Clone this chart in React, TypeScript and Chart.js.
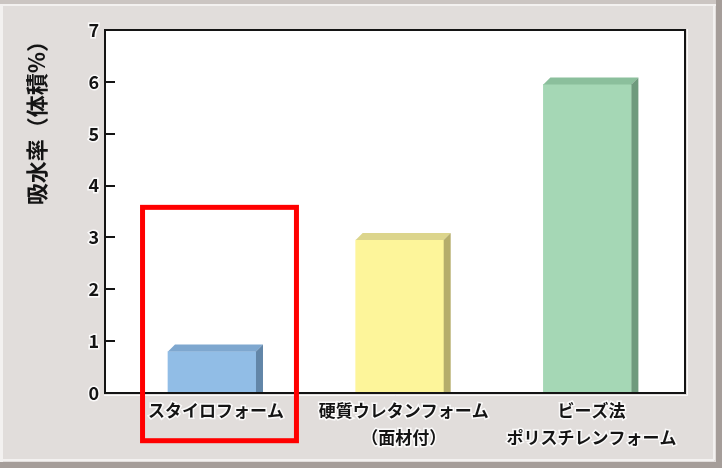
import React, { useEffect, useRef } from 'react';
import { Chart, registerables } from 'chart.js';

Chart.register(...registerables);

// chart data
const CATEGORIES: string[][] = [
  ['スタイロフォーム'],
  ['硬質ウレタンフォーム', '（面材付）'],
  ['ビーズ法', 'ポリスチレンフォーム'],
];
const WATER_ABSORPTION = [0.8, 2.95, 5.95];
const Y_TICKS = [0, 1, 2, 3, 4, 5, 6, 7];
const Y_TITLE = '吸水率（体積%）';

// red highlight box around the first category (axis units)
const HIGHLIGHT_X = [-0.37, 0.45];
const HIGHLIGHT_Y = [-0.92, 3.58];

// bar face colours
const FRONT = ['#91bde6', '#fdf59a', '#a5d7b5'];
const TOP = ['#7ea7cf', '#dcd58c', '#8bbf9c'];
const SIDE = ['#6286a8', '#b5ad6b', '#6f9a7d'];

const DEPTH = 7;
const INK = '#141414';

const framePlugin = {
  id: 'frame',
  beforeDraw(chart: any) {
    const { ctx, width, height, chartArea: a } = chart;
    ctx.save();
    ctx.fillStyle = '#e1dddb';
    ctx.fillRect(0, 0, width, height);
    ctx.fillStyle = '#cbc5c2';
    ctx.fillRect(0, 0, width, 4);
    ctx.fillStyle = '#f3f1f0';
    ctx.fillRect(0, 4, width - 6, 2);
    ctx.fillRect(0, 4, 3, height - 6);
    ctx.fillStyle = '#a59d99';
    ctx.fillRect(width - 6, 0, 6, height);
    ctx.fillRect(0, height - 6, width, 6);
    ctx.fillStyle = '#f3f1f0';
    ctx.fillRect(width - 9, 6, 2, height - 14);
    ctx.fillRect(3, height - 9, width - 11, 2);
    ctx.fillStyle = '#ffffff';
    ctx.fillRect(a.left, a.top, a.right - a.left, a.bottom - a.top);
    ctx.restore();
  },
};

const bars3dPlugin = {
  id: 'bars3d',
  afterDatasetsDraw(chart: any) {
    const { ctx } = chart;
    const meta = chart.getDatasetMeta(0);
    ctx.save();
    meta.data.forEach((el: any, i: number) => {
      const { x, y, base, width } = el.getProps(['x', 'y', 'base', 'width'], true);
      const l = x - width / 2;
      const r = x + width / 2;
      ctx.fillStyle = TOP[i];
      ctx.beginPath();
      ctx.moveTo(l, y);
      ctx.lineTo(l + DEPTH, y - DEPTH);
      ctx.lineTo(r + DEPTH, y - DEPTH);
      ctx.lineTo(r, y);
      ctx.closePath();
      ctx.fill();
      ctx.fillStyle = SIDE[i];
      ctx.beginPath();
      ctx.moveTo(r, y);
      ctx.lineTo(r + DEPTH, y - DEPTH);
      ctx.lineTo(r + DEPTH, base);
      ctx.lineTo(r, base);
      ctx.closePath();
      ctx.fill();
    });
    ctx.restore();
  },
};

const overlayPlugin = {
  id: 'overlay',
  afterDraw(chart: any) {
    const { ctx, chartArea: a, scales } = chart;
    const yScale = scales.y;
    const xScale = scales.x;
    ctx.save();
    // light emboss outside the plot frame
    ctx.strokeStyle = '#fbfafa';
    ctx.lineWidth = 1;
    ctx.beginPath();
    ctx.moveTo(a.right + 2.5, a.top - 1);
    ctx.lineTo(a.right + 2.5, a.bottom + 2.5);
    ctx.lineTo(a.left - 1, a.bottom + 2.5);
    ctx.stroke();
    // plot frame
    ctx.strokeStyle = INK;
    ctx.lineWidth = 2;
    ctx.strokeRect(a.left, a.top, a.right - a.left, a.bottom - a.top);
    // inward y tick marks
    yScale.ticks.forEach((t: any) => {
      const py = Math.round(yScale.getPixelForValue(t.value));
      ctx.beginPath();
      ctx.moveTo(a.left, py);
      ctx.lineTo(a.left + 10, py);
      ctx.stroke();
    });
    // red highlight box
    const x1 = xScale.getPixelForValue(HIGHLIGHT_X[0]);
    const x2 = xScale.getPixelForValue(HIGHLIGHT_X[1]);
    const y1 = yScale.getPixelForValue(HIGHLIGHT_Y[1]);
    const y2 = yScale.getPixelForValue(HIGHLIGHT_Y[0]);
    ctx.strokeStyle = '#ff0000';
    ctx.lineWidth = 5;
    ctx.strokeRect(x1, y1, x2 - x1, y2 - y1);
    ctx.restore();
  },
};

const WaterAbsorptionChart: React.FC = () => {
  const canvasRef = useRef<HTMLCanvasElement>(null);

  useEffect(() => {
    if (!canvasRef.current) return;
    const ctx = canvasRef.current.getContext('2d');
    if (!ctx) return;

    Chart.defaults.font.family = "'Noto Sans CJK JP', 'Noto Sans', sans-serif";

    const chart = new Chart(ctx, {
      type: 'bar',
      data: {
        datasets: [
          {
            data: WATER_ABSORPTION.map((v, i) => ({ x: i, y: v })),
            backgroundColor: FRONT,
            borderWidth: 0,
            barThickness: 88,
          },
        ],
      },
      options: {
        animation: false,
        responsive: true,
        maintainAspectRatio: false,
        layout: { padding: { top: 30, right: 37, left: 0, bottom: 0 } },
        plugins: {
          legend: { display: false },
          tooltip: { enabled: false },
        },
        scales: {
          x: {
            type: 'linear',
            offset: false,
            min: -0.57,
            max: 2.52,
            grid: { display: false, drawTicks: false, offset: false },
            border: { display: false },
            afterBuildTicks: (s: any) => {
              s.ticks = CATEGORIES.map((_, i) => ({ value: i }));
            },
            afterFit: (s: any) => {
              s.height = 75;
            },
            ticks: {
              autoSkip: false,
              maxRotation: 0,
              padding: 4,
              labelOffset: 4,
              color: INK,
              textStrokeColor: 'rgba(255,255,255,0.85)',
              textStrokeWidth: 3,
              font: { size: 17, weight: 'bold', lineHeight: 1.6 },
              callback: (v: any) => CATEGORIES[v] ?? '',
            },
          },
          y: {
            min: 0,
            max: 7,
            grid: { display: false, drawTicks: false },
            border: { display: false },
            afterBuildTicks: (s: any) => {
              s.ticks = Y_TICKS.map((v) => ({ value: v }));
            },
            afterFit: (s: any) => {
              s.width = 105;
            },
            ticks: {
              padding: 6,
              color: INK,
              textStrokeColor: 'rgba(255,255,255,0.85)',
              textStrokeWidth: 3,
              font: { size: 18, weight: 'bold' },
            },
            title: {
              display: true,
              text: Y_TITLE,
              align: 'end',
              color: INK,
              padding: { top: 23, bottom: 0 },
              font: { size: 22, weight: 'bold' },
            },
          },
        },
      },
      plugins: [framePlugin, bars3dPlugin, overlayPlugin],
    } as any);

    return () => {
      chart.destroy();
    };
  }, []);

  return <canvas ref={canvasRef} />;
};

export default function App() {
  return (
    <div style={{ position: 'fixed', left: 0, top: 0, width: 722, height: 468 }}>
      <WaterAbsorptionChart />
    </div>
  );
}
